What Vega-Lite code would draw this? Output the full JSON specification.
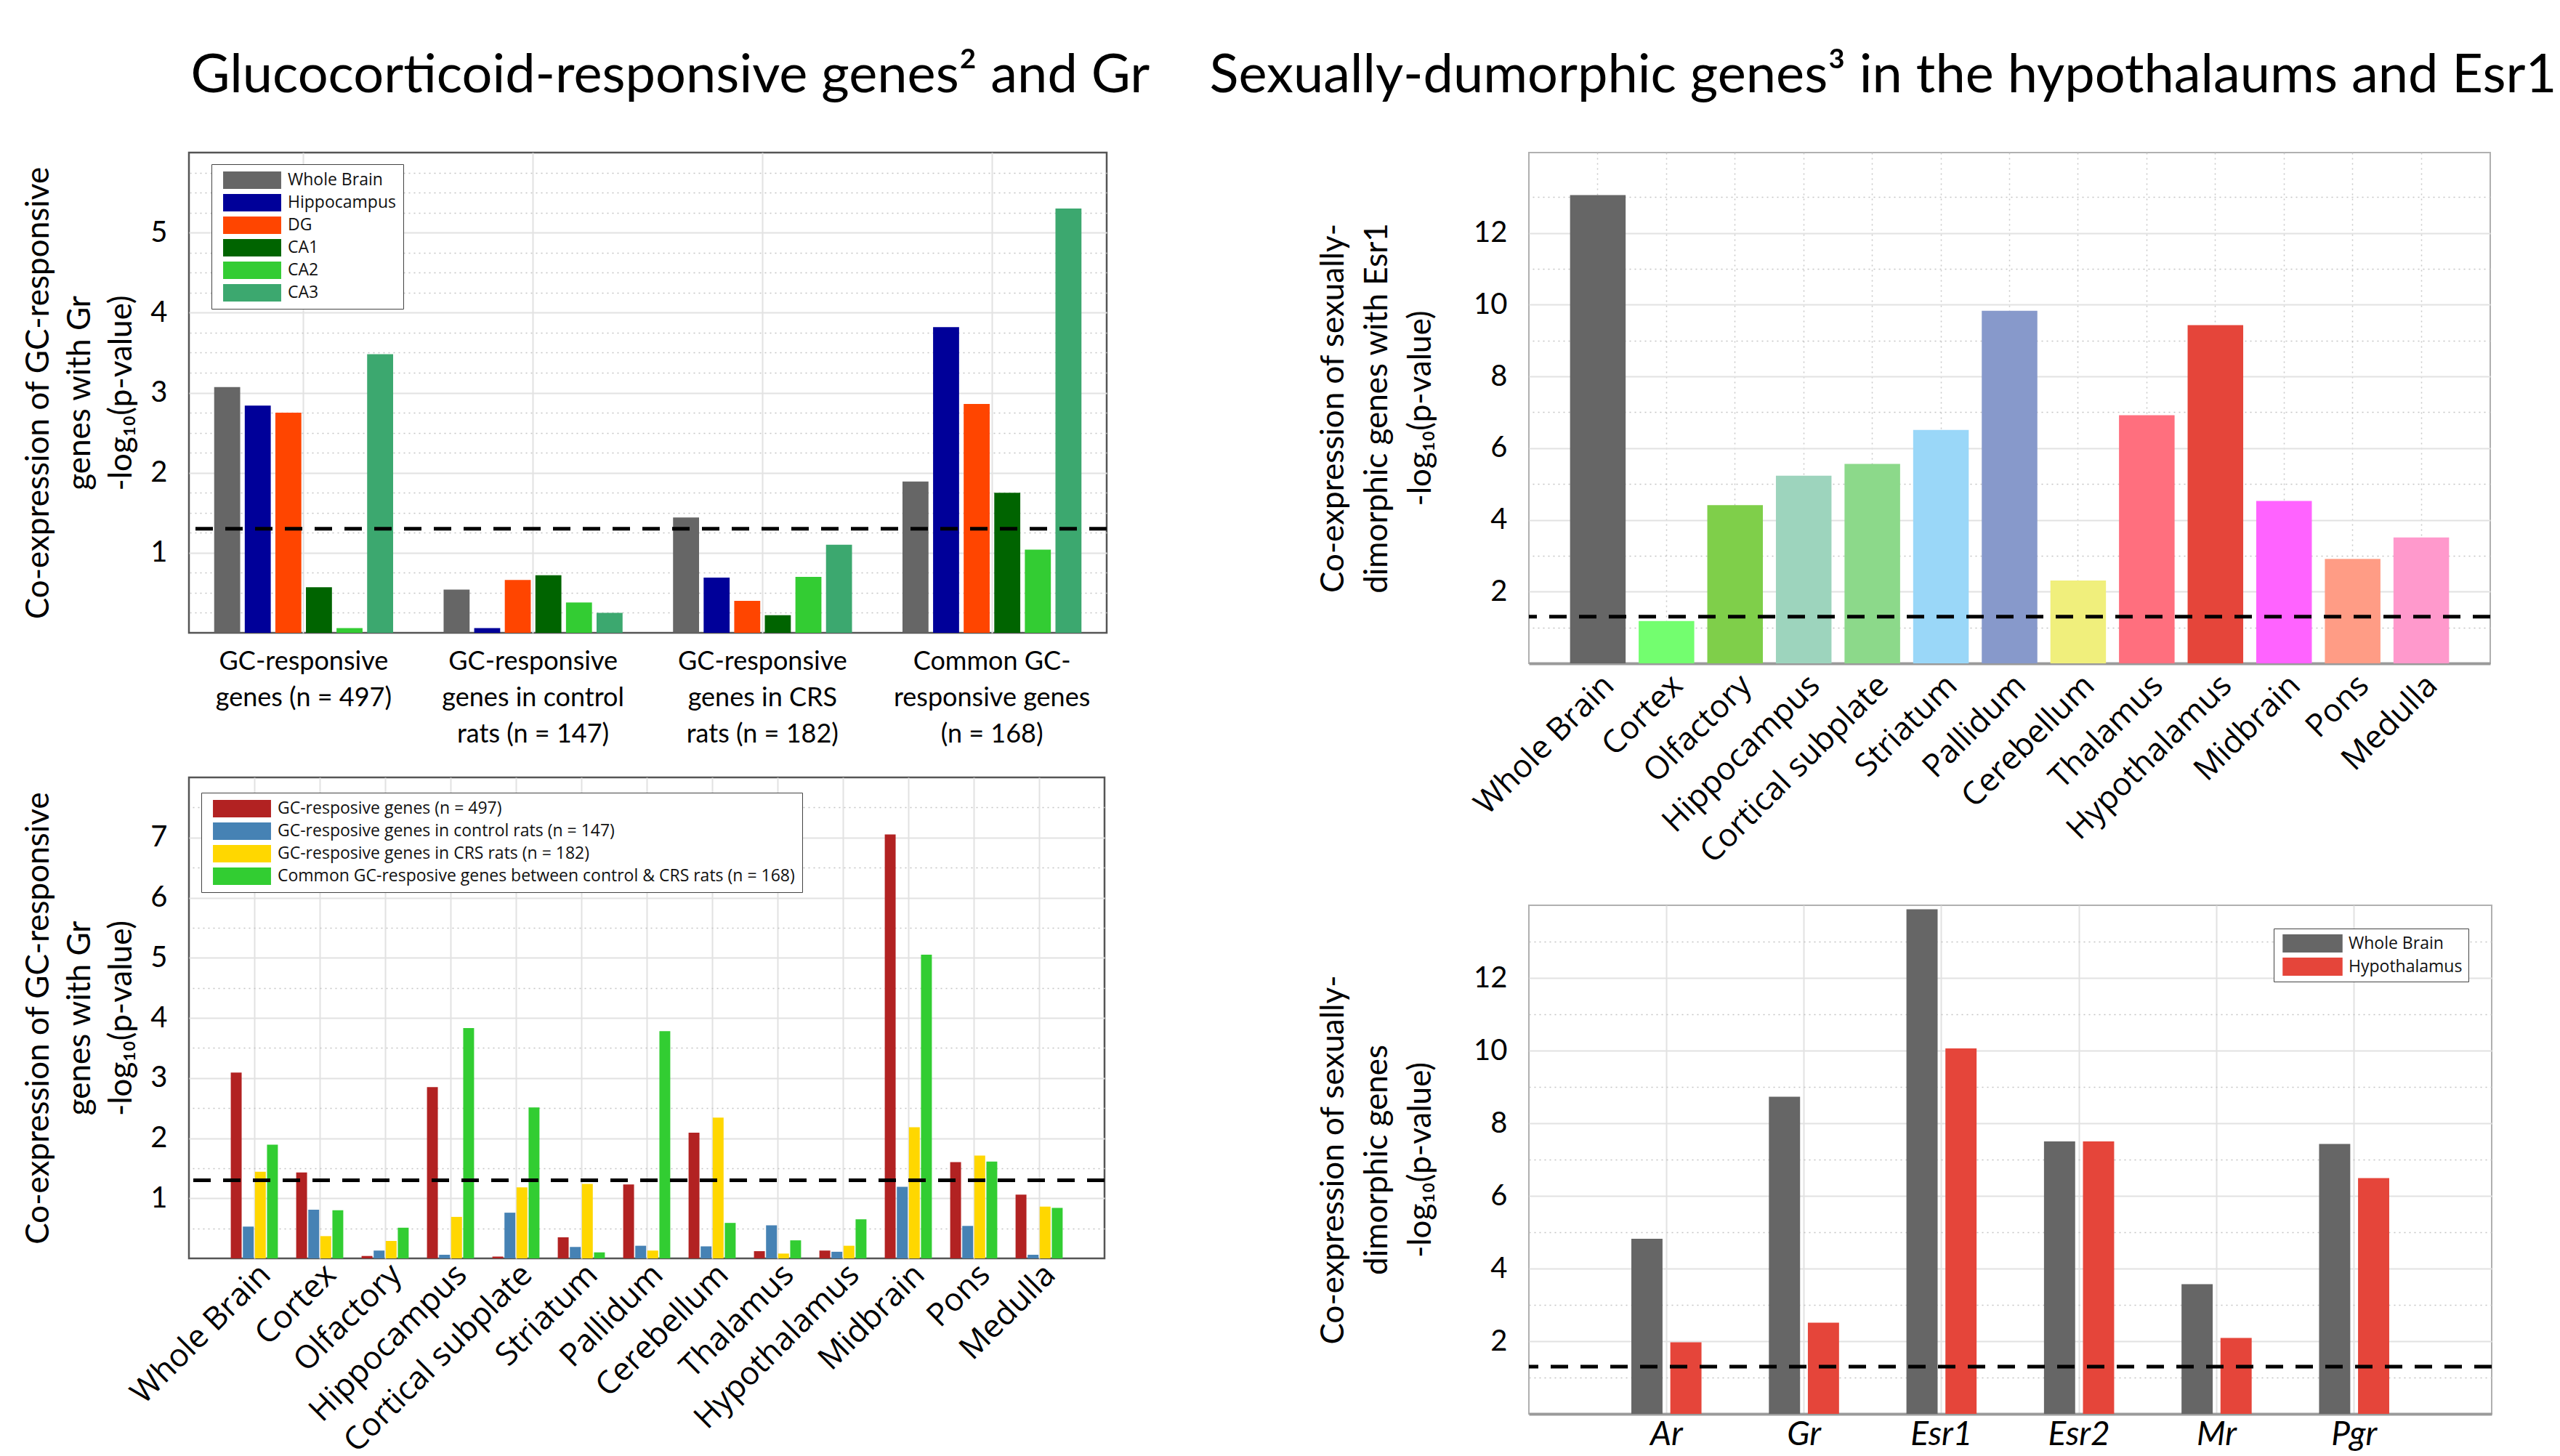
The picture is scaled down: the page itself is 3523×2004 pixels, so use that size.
{
  "$schema": "https://vega.github.io/schema/vega-lite/v6.json",
  "background": "white",
  "padding": {"left": 30, "top": 67, "right": 0, "bottom": 0},
  "config": {
    "font": "Lato",
    "view": {"stroke": "#555555", "strokeWidth": 2.5},
    "axis": {"labelColor": "black", "titleColor": "black", "domain": false, "ticks": false, "labelFont": "Lato", "titleFont": "Lato", "titleFontWeight": "normal", "gridColor": "#e2e2e2", "gridWidth": 2, "labelLimit": 1000},
    "title": {"font": "Lato", "fontSize": 74, "fontWeight": "normal", "color": "black", "anchor": "start"},
    "legend": {"labelFont": "Open Sans", "labelFontSize": 23, "labelColor": "#111111", "strokeColor": "#444444", "fillColor": "white", "padding": 10, "rowPadding": 7, "symbolStrokeWidth": 0, "symbolOpacity": 1, "labelLimit": 1000}
  },
  "resolve": {"scale": {"color": "independent", "xOffset": "independent"}, "legend": {"color": "independent"}},
  "datasets": {
    "thr": [{"t": 1.3}],
    "tl": [
      {"group": "GC-responsive|genes (n = 497)", "series": "Whole Brain", "v": 3.07},
      {"group": "GC-responsive|genes (n = 497)", "series": "Hippocampus", "v": 2.84},
      {"group": "GC-responsive|genes (n = 497)", "series": "DG", "v": 2.75},
      {"group": "GC-responsive|genes (n = 497)", "series": "CA1", "v": 0.57},
      {"group": "GC-responsive|genes (n = 497)", "series": "CA2", "v": 0.06},
      {"group": "GC-responsive|genes (n = 497)", "series": "CA3", "v": 3.48},
      {"group": "GC-responsive|genes in control|rats (n = 147)", "series": "Whole Brain", "v": 0.54},
      {"group": "GC-responsive|genes in control|rats (n = 147)", "series": "Hippocampus", "v": 0.06},
      {"group": "GC-responsive|genes in control|rats (n = 147)", "series": "DG", "v": 0.66},
      {"group": "GC-responsive|genes in control|rats (n = 147)", "series": "CA1", "v": 0.72},
      {"group": "GC-responsive|genes in control|rats (n = 147)", "series": "CA2", "v": 0.38},
      {"group": "GC-responsive|genes in control|rats (n = 147)", "series": "CA3", "v": 0.25},
      {"group": "GC-responsive|genes in CRS|rats (n = 182)", "series": "Whole Brain", "v": 1.44},
      {"group": "GC-responsive|genes in CRS|rats (n = 182)", "series": "Hippocampus", "v": 0.69},
      {"group": "GC-responsive|genes in CRS|rats (n = 182)", "series": "DG", "v": 0.40},
      {"group": "GC-responsive|genes in CRS|rats (n = 182)", "series": "CA1", "v": 0.22},
      {"group": "GC-responsive|genes in CRS|rats (n = 182)", "series": "CA2", "v": 0.70},
      {"group": "GC-responsive|genes in CRS|rats (n = 182)", "series": "CA3", "v": 1.10},
      {"group": "Common GC-|responsive genes|(n = 168)", "series": "Whole Brain", "v": 1.89},
      {"group": "Common GC-|responsive genes|(n = 168)", "series": "Hippocampus", "v": 3.82},
      {"group": "Common GC-|responsive genes|(n = 168)", "series": "DG", "v": 2.86},
      {"group": "Common GC-|responsive genes|(n = 168)", "series": "CA1", "v": 1.75},
      {"group": "Common GC-|responsive genes|(n = 168)", "series": "CA2", "v": 1.04},
      {"group": "Common GC-|responsive genes|(n = 168)", "series": "CA3", "v": 5.30}
    ],
    "bl": [
      {"region": "Whole Brain", "series": "GC-resposive genes (n = 497)", "v": 3.09},
      {"region": "Whole Brain", "series": "GC-resposive genes in control rats (n = 147)", "v": 0.53},
      {"region": "Whole Brain", "series": "GC-resposive genes in CRS rats (n = 182)", "v": 1.44},
      {"region": "Whole Brain", "series": "Common GC-resposive genes between control & CRS rats (n = 168)", "v": 1.89},
      {"region": "Cortex", "series": "GC-resposive genes (n = 497)", "v": 1.43},
      {"region": "Cortex", "series": "GC-resposive genes in control rats (n = 147)", "v": 0.81},
      {"region": "Cortex", "series": "GC-resposive genes in CRS rats (n = 182)", "v": 0.37},
      {"region": "Cortex", "series": "Common GC-resposive genes between control & CRS rats (n = 168)", "v": 0.80},
      {"region": "Olfactory", "series": "GC-resposive genes (n = 497)", "v": 0.04},
      {"region": "Olfactory", "series": "GC-resposive genes in control rats (n = 147)", "v": 0.13},
      {"region": "Olfactory", "series": "GC-resposive genes in CRS rats (n = 182)", "v": 0.29},
      {"region": "Olfactory", "series": "Common GC-resposive genes between control & CRS rats (n = 168)", "v": 0.51},
      {"region": "Hippocampus", "series": "GC-resposive genes (n = 497)", "v": 2.85},
      {"region": "Hippocampus", "series": "GC-resposive genes in control rats (n = 147)", "v": 0.06},
      {"region": "Hippocampus", "series": "GC-resposive genes in CRS rats (n = 182)", "v": 0.69},
      {"region": "Hippocampus", "series": "Common GC-resposive genes between control & CRS rats (n = 168)", "v": 3.83},
      {"region": "Cortical subplate", "series": "GC-resposive genes (n = 497)", "v": 0.03},
      {"region": "Cortical subplate", "series": "GC-resposive genes in control rats (n = 147)", "v": 0.76},
      {"region": "Cortical subplate", "series": "GC-resposive genes in CRS rats (n = 182)", "v": 1.18},
      {"region": "Cortical subplate", "series": "Common GC-resposive genes between control & CRS rats (n = 168)", "v": 2.51},
      {"region": "Striatum", "series": "GC-resposive genes (n = 497)", "v": 0.35},
      {"region": "Striatum", "series": "GC-resposive genes in control rats (n = 147)", "v": 0.19},
      {"region": "Striatum", "series": "GC-resposive genes in CRS rats (n = 182)", "v": 1.24},
      {"region": "Striatum", "series": "Common GC-resposive genes between control & CRS rats (n = 168)", "v": 0.10},
      {"region": "Pallidum", "series": "GC-resposive genes (n = 497)", "v": 1.23},
      {"region": "Pallidum", "series": "GC-resposive genes in control rats (n = 147)", "v": 0.21},
      {"region": "Pallidum", "series": "GC-resposive genes in CRS rats (n = 182)", "v": 0.13},
      {"region": "Pallidum", "series": "Common GC-resposive genes between control & CRS rats (n = 168)", "v": 3.78},
      {"region": "Cerebellum", "series": "GC-resposive genes (n = 497)", "v": 2.09},
      {"region": "Cerebellum", "series": "GC-resposive genes in control rats (n = 147)", "v": 0.20},
      {"region": "Cerebellum", "series": "GC-resposive genes in CRS rats (n = 182)", "v": 2.34},
      {"region": "Cerebellum", "series": "Common GC-resposive genes between control & CRS rats (n = 168)", "v": 0.59},
      {"region": "Thalamus", "series": "GC-resposive genes (n = 497)", "v": 0.12},
      {"region": "Thalamus", "series": "GC-resposive genes in control rats (n = 147)", "v": 0.55},
      {"region": "Thalamus", "series": "GC-resposive genes in CRS rats (n = 182)", "v": 0.08},
      {"region": "Thalamus", "series": "Common GC-resposive genes between control & CRS rats (n = 168)", "v": 0.30},
      {"region": "Hypothalamus", "series": "GC-resposive genes (n = 497)", "v": 0.13},
      {"region": "Hypothalamus", "series": "GC-resposive genes in control rats (n = 147)", "v": 0.11},
      {"region": "Hypothalamus", "series": "GC-resposive genes in CRS rats (n = 182)", "v": 0.21},
      {"region": "Hypothalamus", "series": "Common GC-resposive genes between control & CRS rats (n = 168)", "v": 0.65},
      {"region": "Midbrain", "series": "GC-resposive genes (n = 497)", "v": 7.05},
      {"region": "Midbrain", "series": "GC-resposive genes in control rats (n = 147)", "v": 1.19},
      {"region": "Midbrain", "series": "GC-resposive genes in CRS rats (n = 182)", "v": 2.18},
      {"region": "Midbrain", "series": "Common GC-resposive genes between control & CRS rats (n = 168)", "v": 5.05},
      {"region": "Pons", "series": "GC-resposive genes (n = 497)", "v": 1.60},
      {"region": "Pons", "series": "GC-resposive genes in control rats (n = 147)", "v": 0.54},
      {"region": "Pons", "series": "GC-resposive genes in CRS rats (n = 182)", "v": 1.71},
      {"region": "Pons", "series": "Common GC-resposive genes between control & CRS rats (n = 168)", "v": 1.61},
      {"region": "Medulla", "series": "GC-resposive genes (n = 497)", "v": 1.06},
      {"region": "Medulla", "series": "GC-resposive genes in control rats (n = 147)", "v": 0.06},
      {"region": "Medulla", "series": "GC-resposive genes in CRS rats (n = 182)", "v": 0.86},
      {"region": "Medulla", "series": "Common GC-resposive genes between control & CRS rats (n = 168)", "v": 0.84}
    ],
    "tr": [
      {"region": "Whole Brain", "v": 13.06},
      {"region": "Cortex", "v": 1.18},
      {"region": "Olfactory", "v": 4.41},
      {"region": "Hippocampus", "v": 5.23},
      {"region": "Cortical subplate", "v": 5.56},
      {"region": "Striatum", "v": 6.51},
      {"region": "Pallidum", "v": 9.83},
      {"region": "Cerebellum", "v": 2.31},
      {"region": "Thalamus", "v": 6.92},
      {"region": "Hypothalamus", "v": 9.43},
      {"region": "Midbrain", "v": 4.53},
      {"region": "Pons", "v": 2.91},
      {"region": "Medulla", "v": 3.51}
    ],
    "br": [
      {"gene": "Ar", "series": "Whole Brain", "v": 4.82},
      {"gene": "Ar", "series": "Hypothalamus", "v": 1.97},
      {"gene": "Gr", "series": "Whole Brain", "v": 8.73},
      {"gene": "Gr", "series": "Hypothalamus", "v": 2.51},
      {"gene": "Esr1", "series": "Whole Brain", "v": 13.89},
      {"gene": "Esr1", "series": "Hypothalamus", "v": 10.06},
      {"gene": "Esr2", "series": "Whole Brain", "v": 7.50},
      {"gene": "Esr2", "series": "Hypothalamus", "v": 7.50},
      {"gene": "Mr", "series": "Whole Brain", "v": 3.57},
      {"gene": "Mr", "series": "Hypothalamus", "v": 2.09},
      {"gene": "Pgr", "series": "Whole Brain", "v": 7.43},
      {"gene": "Pgr", "series": "Hypothalamus", "v": 6.49}
    ]
  },
  "spacing": 81,
  "hconcat": [
    {
      "title": {"text": "Glucocorticoid-responsive genes² and Gr", "dx": 232, "offset": 66},
      "bounds": "flush",
      "spacing": 199,
      "resolve": {"scale": {"color": "independent", "xOffset": "independent"}, "legend": {"color": "independent"}},
      "vconcat": [
        {
          "width": 1263, "height": 661,
          "resolve": {"axis": {"y": "independent"}},
          "layer": [
            {
              "data": {"name": "tl"},
              "mark": {"type": "bar"},
              "encoding": {
                "x": {"field": "group", "type": "nominal", "sort": null,
                  "scale": {"paddingInner": 0.22, "paddingOuter": 0.11},
                  "axis": {"title": null, "labelAngle": 0, "labelExpr": "split(datum.label, '|')", "labelFontSize": 36, "labelLineHeight": 50, "labelPadding": 22, "labelBaseline": "top", "grid": true}},
                "xOffset": {"field": "series", "type": "nominal", "sort": ["Whole Brain", "Hippocampus", "DG", "CA1", "CA2", "CA3"], "scale": {"paddingInner": 0.15}},
                "y": {"field": "v", "type": "quantitative", "scale": {"domain": [0, 6], "nice": false},
                  "axis": {"title": ["Co-expression of GC-responsive", "genes with Gr", "-log₁₀(p-value)"], "titleFontSize": 44, "titleLineHeight": 57, "titlePadding": 17, "values": [1, 2, 3, 4, 5], "labelFontSize": 40, "labelPadding": 30, "grid": true}},
                "color": {"field": "series", "type": "nominal", "sort": ["Whole Brain", "Hippocampus", "DG", "CA1", "CA2", "CA3"],
                  "scale": {"domain": ["Whole Brain", "Hippocampus", "DG", "CA1", "CA2", "CA3"], "range": ["#666666", "#000099", "#ff4500", "#006400", "#33cc33", "#3ca86f"]},
                  "legend": {"title": null, "orient": "none", "legendX": 31, "legendY": 16, "symbolType": "M-3.33,-1H3.33V1H-3.33Z", "symbolSize": 576, "symbolOffset": 34, "labelOffset": 37}}
              }
            },
            {
              "data": {"name": "thr"},
              "mark": {"type": "rule", "strokeDash": [24, 17], "strokeWidth": 5, "color": "black"},
              "encoding": {
                "y": {"field": "t", "type": "quantitative",
                  "axis": {"orient": "right", "title": null, "labels": false, "grid": true, "gridDash": [2, 5], "gridColor": "#c4c4c4", "gridWidth": 1.5,
                    "values": [0.25, 0.5, 0.75, 1.25, 1.5, 1.75, 2.25, 2.5, 2.75, 3.25, 3.5, 3.75, 4.25, 4.5, 4.75, 5.25, 5.5, 5.75]}}
              }
            }
          ]
        },
        {
          "width": 1260, "height": 662,
          "resolve": {"axis": {"y": "independent"}},
          "layer": [
            {
              "data": {"name": "bl"},
              "mark": {"type": "bar"},
              "encoding": {
                "x": {"field": "region", "type": "nominal", "sort": null,
                  "scale": {"paddingInner": 0.28, "paddingOuter": 0.64},
                  "axis": {"title": null, "labelAngle": -45, "labelFont": "Open Sans", "labelFontSize": 44, "labelPadding": 0, "grid": true}},
                "xOffset": {"field": "series", "type": "nominal", "sort": null, "scale": {"paddingInner": 0.1}},
                "y": {"field": "v", "type": "quantitative", "scale": {"domain": [0, 8], "nice": false},
                  "axis": {"title": ["Co-expression of GC-responsive", "genes with Gr", "-log₁₀(p-value)"], "titleFontSize": 44, "titleLineHeight": 57, "titlePadding": 17, "values": [1, 2, 3, 4, 5, 6, 7], "labelFontSize": 40, "labelPadding": 30, "grid": true}},
                "color": {"field": "series", "type": "nominal", "sort": null,
                  "scale": {"domain": ["GC-resposive genes (n = 497)", "GC-resposive genes in control rats (n = 147)", "GC-resposive genes in CRS rats (n = 182)", "Common GC-resposive genes between control & CRS rats (n = 168)"], "range": ["#b22222", "#4682b4", "#ffd700", "#32cd32"]},
                  "legend": {"title": null, "orient": "none", "legendX": 17, "legendY": 21, "symbolType": "M-3.33,-1H3.33V1H-3.33Z", "symbolSize": 576, "symbolOffset": 34, "labelOffset": 37}}
              }
            },
            {
              "data": {"name": "thr"},
              "mark": {"type": "rule", "strokeDash": [24, 17], "strokeWidth": 5, "color": "black"},
              "encoding": {
                "y": {"field": "t", "type": "quantitative",
                  "axis": {"orient": "right", "title": null, "labels": false, "grid": true, "gridDash": [2, 5], "gridColor": "#c4c4c4", "gridWidth": 1.5,
                    "values": [0.5, 1.5, 2.5, 3.5, 4.5, 5.5, 6.5, 7.5]}}
              }
            }
          ]
        }
      ]
    },
    {
      "title": {"text": "Sexually-dumorphic genes³ in the hypothalaums and Esr1", "dx": -148, "offset": 66},
      "bounds": "flush",
      "spacing": 333,
      "resolve": {"scale": {"color": "independent", "xOffset": "independent"}, "legend": {"color": "independent"}},
      "vconcat": [
        {
          "width": 1323, "height": 703,
          "view": {"stroke": "#b0b0b0", "strokeWidth": 2},
          "resolve": {"axis": {"y": "independent"}},
          "layer": [
            {
              "data": {"name": "tr"},
              "mark": {"type": "bar"},
              "encoding": {
                "x": {"field": "region", "type": "nominal", "sort": null,
                  "scale": {"paddingInner": 0.19, "paddingOuter": 0.6},
                  "axis": {"title": null, "labelAngle": -45, "labelFont": "Open Sans", "labelFontSize": 44, "labelPadding": 8, "grid": true, "gridDash": [2, 5], "gridColor": "#c8c8c8", "gridWidth": 1.5, "domain": true, "domainColor": "#9a9a9a", "domainWidth": 4}},
                "y": {"field": "v", "type": "quantitative", "scale": {"domain": [0, 14.243], "nice": false},
                  "axis": {"title": ["Co-expression of sexually-", "dimorphic genes with Esr1", "-log₁₀(p-value)"], "titleFontSize": 44, "titleLineHeight": 60, "titlePadding": 50, "values": [2, 4, 6, 8, 10, 12], "labelFontSize": 40, "labelPadding": 30, "grid": true}},
                "color": {"field": "region", "type": "nominal", "sort": null,
                  "scale": {"domain": ["Whole Brain", "Cortex", "Olfactory", "Hippocampus", "Cortical subplate", "Striatum", "Pallidum", "Cerebellum", "Thalamus", "Hypothalamus", "Midbrain", "Pons", "Medulla"],
                    "range": ["#666666", "#73fe6f", "#7fcf4a", "#9dd4bd", "#8cd98a", "#9ad7f8", "#8799cb", "#f0ef7c", "#ff6f7e", "#e5453a", "#ff63ff", "#ff9c85", "#ff99cc"]},
                  "legend": null}
              }
            },
            {
              "data": {"name": "thr"},
              "mark": {"type": "rule", "strokeDash": [24, 17], "strokeWidth": 5, "color": "black"},
              "encoding": {
                "y": {"field": "t", "type": "quantitative",
                  "axis": {"orient": "right", "title": null, "labels": false, "grid": true, "gridDash": [2, 5], "gridColor": "#c4c4c4", "gridWidth": 1.5,
                    "values": [1, 3, 5, 7, 9, 11, 13]}}
              }
            }
          ]
        },
        {
          "width": 1325, "height": 700,
          "view": {"stroke": "#b0b0b0", "strokeWidth": 2},
          "resolve": {"axis": {"y": "independent"}},
          "layer": [
            {
              "data": {"name": "br"},
              "mark": {"type": "bar"},
              "encoding": {
                "x": {"field": "gene", "type": "nominal", "sort": null,
                  "scale": {"paddingInner": 0.49, "paddingOuter": 0.745},
                  "axis": {"title": null, "labelAngle": 0, "labelFontStyle": "italic", "labelFontSize": 46, "labelPadding": 6, "grid": true, "domain": true, "domainColor": "#9a9a9a", "domainWidth": 4}},
                "xOffset": {"field": "series", "type": "nominal", "sort": ["Whole Brain", "Hypothalamus"], "scale": {"paddingInner": 0.2}},
                "y": {"field": "v", "type": "quantitative", "scale": {"domain": [0, 14], "nice": false},
                  "axis": {"title": ["Co-expression of sexually-", "dimorphic genes", "-log₁₀(p-value)"], "titleFontSize": 44, "titleLineHeight": 60, "titlePadding": 50, "values": [2, 4, 6, 8, 10, 12], "labelFontSize": 40, "labelPadding": 30, "grid": true}},
                "color": {"field": "series", "type": "nominal", "sort": ["Whole Brain", "Hypothalamus"],
                  "scale": {"domain": ["Whole Brain", "Hypothalamus"], "range": ["#666666", "#e5453a"]},
                  "legend": {"title": null, "orient": "top-right", "offset": 32, "padding": 8, "symbolType": "M-3.3,-1H3.3V1H-3.3Z", "symbolSize": 625, "symbolOffset": 33, "labelOffset": 37}}
              }
            },
            {
              "data": {"name": "thr"},
              "mark": {"type": "rule", "strokeDash": [24, 17], "strokeWidth": 5, "color": "black"},
              "encoding": {
                "y": {"field": "t", "type": "quantitative",
                  "axis": {"orient": "right", "title": null, "labels": false, "grid": true, "gridDash": [2, 5], "gridColor": "#c4c4c4", "gridWidth": 1.5,
                    "values": [1, 3, 5, 7, 9, 11, 13]}}
              }
            }
          ]
        }
      ]
    }
  ]
}
